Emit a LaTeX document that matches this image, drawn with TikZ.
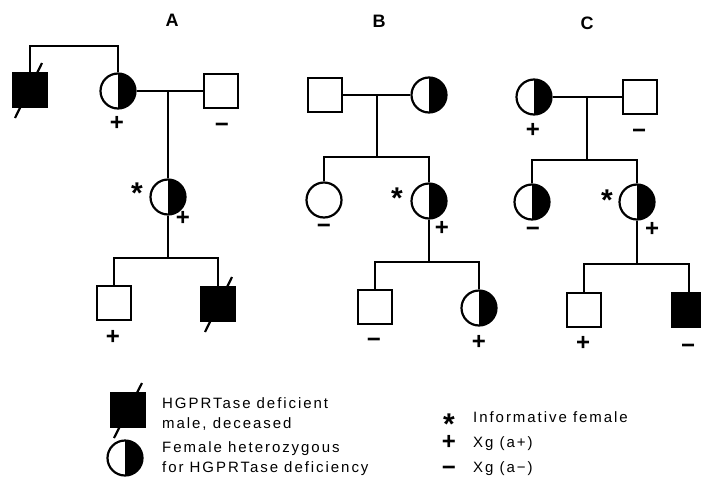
\documentclass[tikz,border=0pt]{standalone}
\usepackage{fontspec}
\setmainfont{Liberation Sans}
\newfontfamily\legendfont[LetterSpace=13]{Liberation Sans}
\usetikzlibrary{positioning, calc}

\begin{document}
\begin{tikzpicture}[
    x=1pt, y=-1pt,
    male/.style={rectangle, draw, line width=2.2pt, minimum size=34pt, inner sep=0pt, fill=white},
    female/.style={circle, draw, line width=2.2pt, minimum size=35pt, inner sep=0pt, fill=white},
    affected/.style={male, fill=black},
    carrier/.style={female, path picture={\fill[black] (path picture bounding box.north) rectangle (path picture bounding box.south east);}},
    line/.style={draw, line width=2.2pt},
    sign/.style={font=\bfseries\fontsize{24}{24}\selectfont, inner sep=0pt},
    star/.style={font=\bfseries\fontsize{30}{30}\selectfont, inner sep=0pt},
    tag/.style={font=\bfseries\fontsize{18}{18}\selectfont},
    legend/.style={font=\legendfont\fontsize{15}{20}\selectfont, align=left, inner sep=0pt}
]
\useasboundingbox (0,0) rectangle (701,482);
\clip (0,0) rectangle (701,482);

% pedigree A
\node [tag] (tagA) at (172,20) {A};
\node [affected] (a1) at (30,90) {};
\node [carrier] (a2) at (118,91) {};
\node [male] (a3) at (221,91) {};
\node [carrier] (a4) at (168,197) {};
\node [male] (a5) at (114,303) {};
\node [affected] (a6) at (218,304) {};
\coordinate (atop) at (74,46);
\coordinate (am) at (168,91);
\coordinate (as) at (168,258);
\path [line] (a1) |- (atop) -| (a2);
\path [line] (a2) -- (a3);
\path [line] (am) -- (a4);
\path [line] (a4) -- (as);
\path [line] (a5) |- (as) -| (a6);
\path [line] ([shift={(-15,28)}]a1.center) -- ([shift={(12,-27)}]a1.center);
\path [line] ([shift={(-13,28)}]a6.center) -- ([shift={(14,-27)}]a6.center);
\node [sign] at (117,123) {+};
\node [sign] at (222,128) {−};
\node [star] at (137,186) {\raisebox{-0.42em}[0.3em][0pt]{*}};
\node [sign] at (183,218) {+};
\node [sign] at (113,337) {+};

% pedigree B
\node [tag] (tagB) at (379,21) {B};
\node [male] (b1) at (325,95) {};
\node [carrier] (b2) at (429,95) {};
\node [female] (b3) at (324,200) {};
\node [carrier] (b4) at (429,201) {};
\node [male] (b5) at (375,307) {};
\node [carrier] (b6) at (479,308) {};
\coordinate (bm) at (377,95);
\coordinate (bs) at (377,157);
\coordinate (bt) at (429,262);
\path [line] (b1) -- (b2);
\path [line] (bm) -- (bs);
\path [line] (b3) |- (bs) -| (b4);
\path [line] (b4) -- (bt);
\path [line] (b5) |- (bt) -| (b6);
\node [sign] at (324,229) {−};
\node [star] at (397,191) {\raisebox{-0.42em}[0.3em][0pt]{*}};
\node [sign] at (442,228) {+};
\node [sign] at (374,343) {−};
\node [sign] at (479,342) {+};

% pedigree C
\node [tag] (tagC) at (587,23) {C};
\node [carrier] (c1) at (534,97) {};
\node [male] (c2) at (640,97) {};
\node [carrier] (c3) at (532,202) {};
\node [carrier] (c4) at (637,202) {};
\node [male] (c5) at (584,310) {};
\node [affected] (c6) at (689,310) {};
\coordinate (cm) at (587,97);
\coordinate (cs) at (587,160);
\coordinate (ct) at (637,264);
\path [line] (c1) -- (c2);
\path [line] (cm) -- (cs);
\path [line] (c3) |- (cs) -| (c4);
\path [line] (c4) -- (ct);
\path [line] (c5) |- (ct) -| (c6);
\node [sign] at (533,130) {+};
\node [sign] at (639,134) {−};
\node [sign] at (533,232) {−};
\node [star] at (607,193) {\raisebox{-0.42em}[0.3em][0pt]{*}};
\node [sign] at (652,229) {+};
\node [sign] at (583,343) {+};
\node [sign] at (688,349) {−};

% legend
\node [affected] (keym) at (128,410) {};
\path [line] ([shift={(-14,28)}]keym.center) -- ([shift={(14,-27)}]keym.center);
\node [legend, anchor=west] (keymtext) at (162,414) {HGPRTase deficient\\male, deceased};
\node [carrier] (keyf) at (125,458) {};
\node [legend, anchor=west] (keyftext) at (162,459) {Female heterozygous\\for HGPRTase deficiency};

\node [star] (keystar) at (449,417) {\raisebox{-0.42em}[0.3em][0pt]{*}};
\node [legend, anchor=base west] (keystartext) at (473,422) {Informative female};
\node [sign] (keyplus) at (449,442) {+};
\node [legend, anchor=base west] (keyplustext) at (473,447) {Xg (a+)};
\node [sign] (keyminus) at (449,471) {−};
\node [legend, anchor=base west] (keyminustext) at (473,472) {Xg (a−)};
\end{tikzpicture}
\end{document}
